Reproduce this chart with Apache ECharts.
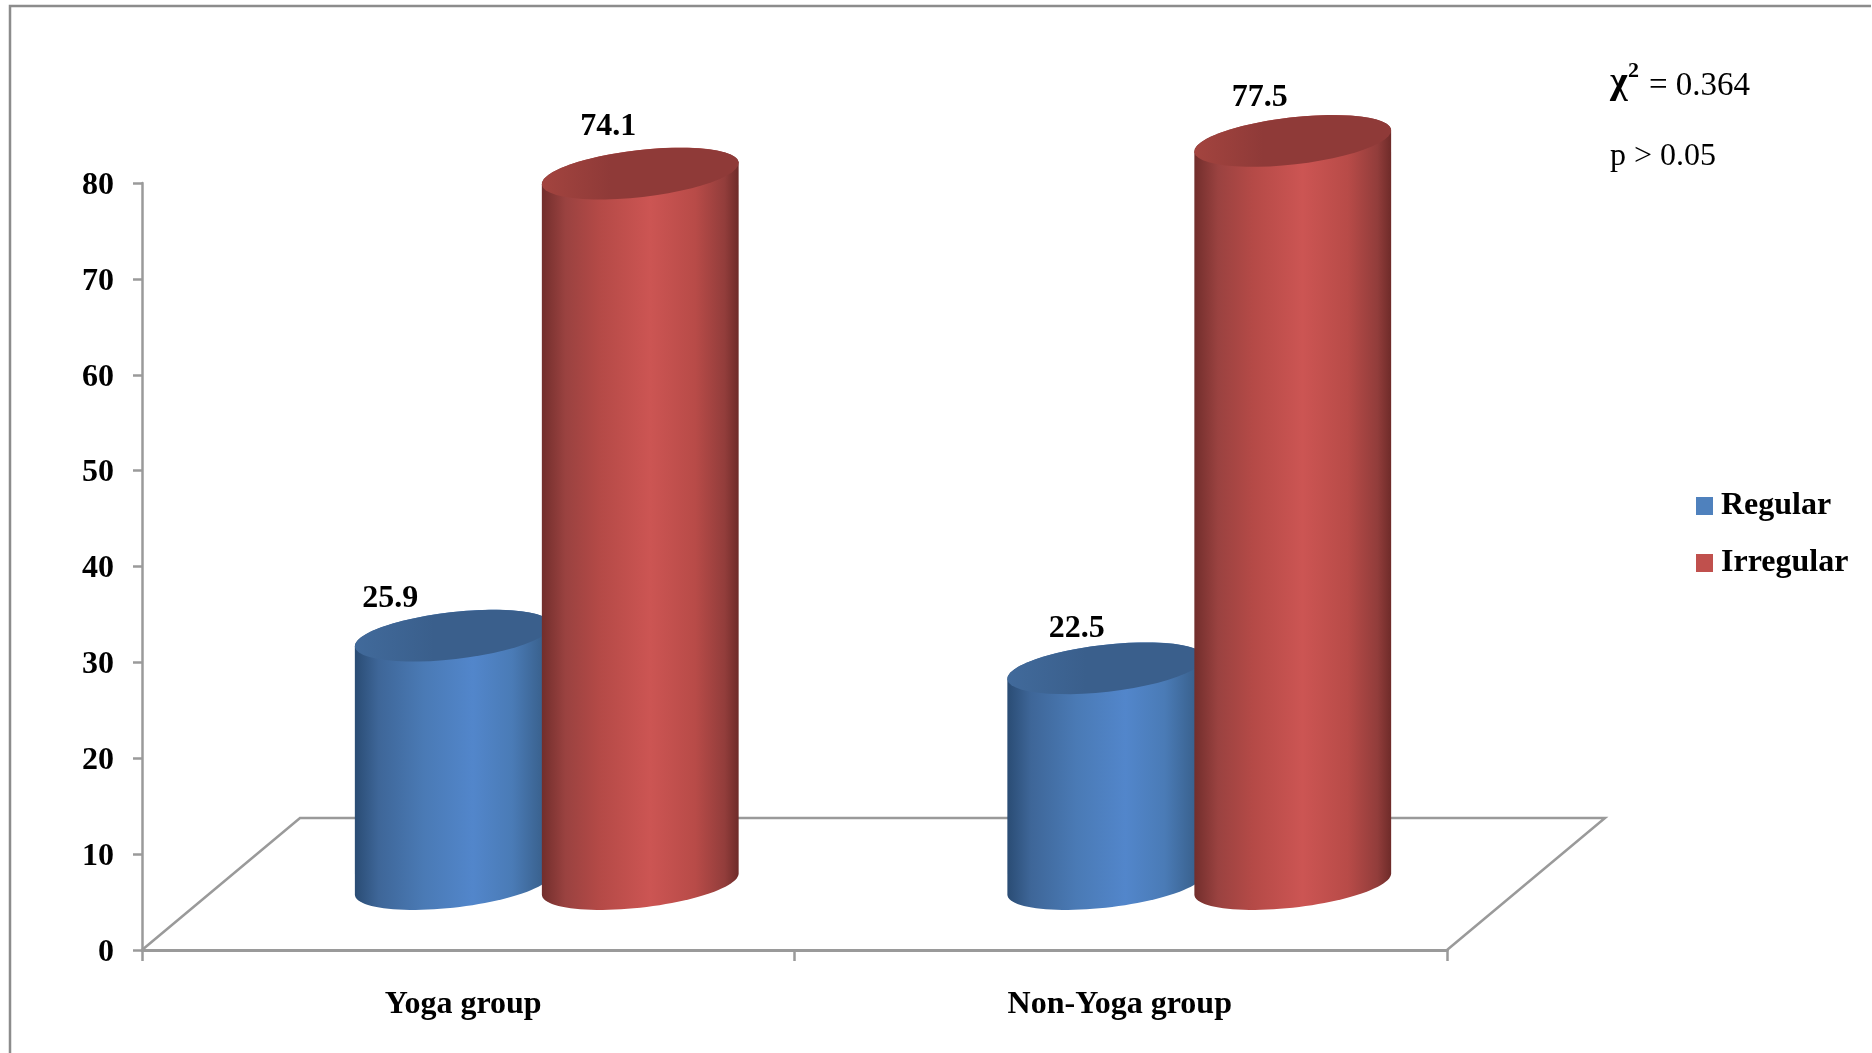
<!DOCTYPE html>
<html>
<head>
<meta charset="utf-8">
<style>html,body{margin:0;padding:0;background:#fff}#chart{width:1872px;height:1053px}</style>
<script src="https://cdn.jsdelivr.net/npm/echarts@6/dist/echarts.min.js"></script>
</head>
<body>
<div id="chart"></div>
<script>
// Menstrual regularity by study group, drawn as tilted 3D cylinders on a floor plane.
const groups = ['Yoga group', 'Non-Yoga group'];
const regular = [25.9, 22.5];
const irregular = [74.1, 77.5];
const yTicks = { min: 0, max: 80, step: 10 };

const SERIF = '"Liberation Serif", "Times New Roman", serif';
const AXIS_GREY = '#9a9a9a';

// Cylinder geometry, as pixels of the pseudo-3D projection.
const RADIUS_RATIO = 99 / 652.5;     // half width relative to the category band
const MINOR = 23.5;                  // cap ellipse minor semi-axis
const TILT = -6.5 * Math.PI / 180;   // cap rotation
const BASE_LIFT = 66;                // floor centre line above the value axis zero
const FLOOR_DX = 158, FLOOR_DY = 132;

function ellipseArc(cx, cy, a, b, from, to) {
  const pts = [];
  for (let i = 0; i <= 48; i++) {
    const t = from + (to - from) * i / 48;
    pts.push([
      cx + a * Math.cos(t) * Math.cos(TILT) - b * Math.sin(t) * Math.sin(TILT),
      cy + a * Math.cos(t) * Math.sin(TILT) + b * Math.sin(t) * Math.cos(TILT)
    ]);
  }
  return pts;
}

function hGradient(stops) {
  return new echarts.graphic.LinearGradient(0, 0, 1, 0,
    stops.map(s => ({ offset: s[0], color: s[1] })));
}

function cylinderRenderer(opts) {
  return function (params, api) {
    const cat = api.value(0), val = api.value(1);
    const top = api.coord([cat, val]);
    const zero = api.coord([cat, 0]);
    const band = api.size([1, 0])[0];
    const a = band * RADIUS_RATIO;
    const cx = top[0] + opts.dx;
    const yTop = top[1] - BASE_LIFT;
    const yBase = zero[1] - BASE_LIFT;
    const t0 = Math.atan(-(MINOR / a) * Math.tan(TILT));
    const lower = ellipseArc(cx, yBase, a, MINOR, t0, t0 + Math.PI);
    const upper = ellipseArc(cx, yTop, a, MINOR, t0 + Math.PI, t0 + 2 * Math.PI);
    const cap = ellipseArc(cx, yTop, a, MINOR, 0, 2 * Math.PI);
    const shift = opts.labelShift[params.dataIndex];
    return {
      type: 'group',
      children: [
        { type: 'polygon', shape: { points: lower.concat(upper) },
          style: { fill: hGradient(opts.body) } },
        { type: 'polygon', shape: { points: cap },
          style: { fill: hGradient(opts.cap) } },
        { type: 'text', z2: 10,
          style: { text: val.toFixed(1), x: cx + shift[0], y: yTop + shift[1],
            fontFamily: SERIF, fontSize: 32, fontWeight: 'bold', fill: '#000',
            align: 'center', verticalAlign: 'middle' } }
      ]
    };
  };
}

function renderFloor(params, api) {
  const box = params.coordSys;
  const x0 = box.x, x1 = box.x + box.width, y = box.y + box.height;
  return {
    type: 'polyline', silent: true,
    shape: { points: [[x0, y], [x0 + FLOOR_DX, y - FLOOR_DY], [x1 + FLOOR_DX, y - FLOOR_DY], [x1, y]] },
    style: { stroke: AXIS_GREY, lineWidth: 2.5, fill: null }
  };
}

const chart = echarts.init(document.getElementById('chart'), null, { renderer: 'canvas' });
chart.setOption({
  animation: false,
  backgroundColor: '#ffffff',
  grid: { left: 142, right: 425, top: 183, bottom: 103, containLabel: false },
  legend: {
    orient: 'vertical', left: 1691, top: 485,
    itemWidth: 17, itemHeight: 18, itemGap: 25, icon: 'rect', selectedMode: false,
    textStyle: { fontFamily: SERIF, fontSize: 32, fontWeight: 'bold', color: '#000', padding: [0, 0, 0, 3], lineHeight: 18 },
    data: ['Regular', 'Irregular']
  },
  xAxis: {
    type: 'category',
    data: [{ value: groups[0], textStyle: { padding: [0, 10, 0, 0] } }, { value: groups[1], textStyle: { padding: [0, 2, 0, 0] } }],
    axisLine: { lineStyle: { color: AXIS_GREY, width: 3 } },
    axisTick: { show: true, length: 11, alignWithLabel: false, lineStyle: { color: AXIS_GREY, width: 2.5 } },
    axisLabel: { margin: 39, fontFamily: SERIF, fontSize: 32, fontWeight: 'bold', color: '#000' }
  },
  yAxis: {
    type: 'value', min: yTicks.min, max: yTicks.max, interval: yTicks.step,
    splitLine: { show: false },
    axisLine: { show: true, lineStyle: { color: AXIS_GREY, width: 2.5 } },
    axisTick: { show: true, length: 9, lineStyle: { color: AXIS_GREY, width: 2.5 } },
    axisLabel: {
      margin: 28, formatter: '{n|{value}}',
      rich: { n: { padding: [5, 0, 0, 0], fontFamily: SERIF, fontSize: 32, fontWeight: 'bold', color: '#000' } }
    }
  },
  series: [
    { type: 'custom', name: 'floor', silent: true, z: 1, renderItem: renderFloor, data: [[0, 0]], clip: false },
    {
      type: 'custom', name: 'Regular', z: 2, clip: false,
      itemStyle: { color: '#4f81bd' },
      encode: { x: 0, y: 1 },
      data: regular.map((v, i) => [i, v]),
      renderItem: cylinderRenderer({
        dx: -15,
        labelShift: [[-63, -37], [-29, -40]],
        body: [[0, '#2a4c74'], [0.12, '#3e6698'], [0.35, '#4a7ab5'], [0.6, '#5286cb'], [0.8, '#4a7bb6'], [0.95, '#3a628f'], [1, '#2f5480']],
        cap: [[0, '#416a9b'], [0.4, '#3a5f8c'], [1, '#3a5f8c']]
      })
    },
    {
      type: 'custom', name: 'Irregular', z: 3, clip: false,
      itemStyle: { color: '#c0504d' },
      encode: { x: 0, y: 1 },
      data: irregular.map((v, i) => [i, v]),
      renderItem: cylinderRenderer({
        dx: 172,
        labelShift: [[-32, -47], [-33, -43]],
        body: [[0, '#722e2c'], [0.12, '#9a4240'], [0.3, '#b54a47'], [0.55, '#cc5553'], [0.78, '#b84b48'], [0.93, '#923d3b'], [1, '#6e2b29']],
        cap: [[0, '#a3443f'], [0.35, '#8f3a38'], [1, '#8f3a38']]
      })
    }
  ],
  graphic: [
    { type: 'polyline', silent: true, z: 0,
      shape: { points: [[10, 1060], [10, 6], [1871, 6]] },
      style: { stroke: '#8c8c8c', lineWidth: 2.5, fill: null } },
    { type: 'text', x: 1610, y: 102, silent: true,
      style: { text: 'χ', font: 'bold 38px ' + SERIF, fill: '#000', verticalAlign: 'bottom' } },
    { type: 'text', x: 1628, y: 82, silent: true,
      style: { text: '2', font: 'bold 22px ' + SERIF, fill: '#000', verticalAlign: 'bottom' } },
    { type: 'text', x: 1649, y: 103, silent: true,
      style: { text: '= 0.364', font: '33px ' + SERIF, fill: '#000', verticalAlign: 'bottom' } },
    { type: 'text', x: 1610, y: 173, silent: true,
      style: { text: 'p > 0.05', font: '32px ' + SERIF, fill: '#000', verticalAlign: 'bottom' } }
  ]
});
</script>
</body>
</html>
